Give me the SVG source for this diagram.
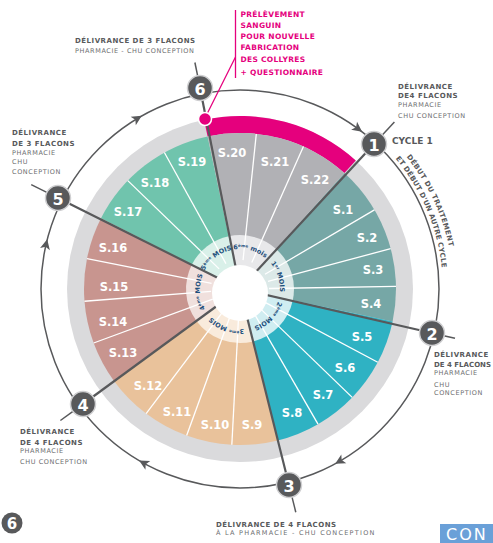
<svg xmlns="http://www.w3.org/2000/svg" width="493" height="543" viewBox="0 0 493 543">
<defs>
<style>
.lb{font-family:"DejaVu Sans",sans-serif;font-weight:bold;font-size:7px;letter-spacing:0.5px;fill:#58595b}
.lr{font-family:"DejaVu Sans",sans-serif;font-size:6.5px;letter-spacing:0.6px;fill:#6d6e71}
.pk{font-family:"DejaVu Sans",sans-serif;font-weight:bold;font-size:7.5px;letter-spacing:0.3px;fill:#e5007d}
.wk{font-family:"DejaVu Sans",sans-serif;font-weight:bold;font-size:11.5px;fill:#fff;text-anchor:middle;dominant-baseline:central}
.mo{font-family:"DejaVu Sans",sans-serif;font-weight:bold;font-size:6.5px;fill:#1e4f7c;text-anchor:middle}
.num circle{fill:#58595b;stroke:#cfcfd1;stroke-width:1.5}
.num text{font-family:"DejaVu Sans",sans-serif;font-weight:bold;font-size:16px;fill:#fff;text-anchor:middle;dominant-baseline:central}
.spoke{stroke:#58595b;stroke-width:2.2}
.div{stroke:#fff;stroke-width:1.3}
.tick{stroke:#58595b;stroke-width:1.5}
.arr{fill:#58595b}
.cur{font-family:"DejaVu Sans",sans-serif;font-weight:bold;font-size:7px;fill:#58595b}
</style>
<path id="tOut" d="M 406.4 156.8 A 214 214 0 0 1 450.7 326.2"/>
<path id="tIn" d="M 395.5 158.5 A 203 203 0 0 1 439.9 324.2"/>
<path id="h1" d="M 266.8 259.3 A 40 40 0 0 1 279.1 297.3"/>
<path id="h2" d="M 279.1 297.3 A 40 40 0 0 1 249.7 327.8"/>
<path id="h3" d="M 249.7 327.8 A 40 40 0 0 1 207.6 312.5"/>
<path id="h4" d="M 207.6 312.5 A 40 40 0 0 1 204.4 270.8"/>
<path id="h5" d="M 204.4 270.8 A 40 40 0 0 1 231.7 249.9"/>
<path id="h6" d="M 231.7 249.9 A 40 40 0 0 1 266.8 259.3"/>
<path id="ah" d="M5,0 L-5,-5 L-2.5,0 L-5,5 Z"/>
</defs>
<rect width="493" height="543" fill="#fff"/>

<g id="wheel">
<circle cx="240" cy="289" r="173" fill="#dadadc"/>
<path d="M 204 119.8 A 173 173 0 0 1 355.8 160.4 L 344.4 173.1 A 156 156 0 0 0 207.6 136.4 Z" fill="#e5007d"/>
<path d="M240 289 L344.4 173.1 A156 156 0 0 1 392.6 321.4 Z" fill="#76a7a6"/>
<path d="M240 289 L392.6 321.4 A156 156 0 0 1 277.7 440.4 Z" fill="#2fb2c3"/>
<path d="M240 289 L277.7 440.4 A156 156 0 0 1 113.8 380.7 Z" fill="#e9c29b"/>
<path d="M240 289 L113.8 380.7 A156 156 0 0 1 101.0 218.2 Z" fill="#c8958f"/>
<path d="M240 289 L101.0 218.2 A156 156 0 0 1 207.6 136.4 Z" fill="#70c4ad"/>
<path d="M240 289 L207.6 136.4 A156 156 0 0 1 344.4 173.1 Z" fill="#b1b1b5"/>
<path d="M240 289 L276.1 248.9 A54 54 0 0 1 292.8 300.2 Z" fill="#dce9e8"/>
<path d="M240 289 L292.8 300.2 A54 54 0 0 1 253.1 341.4 Z" fill="#d0edf1"/>
<path d="M240 289 L253.1 341.4 A54 54 0 0 1 196.3 320.7 Z" fill="#f9ebdc"/>
<path d="M240 289 L196.3 320.7 A54 54 0 0 1 191.9 264.5 Z" fill="#f0e0dd"/>
<path d="M240 289 L191.9 264.5 A54 54 0 0 1 228.8 236.2 Z" fill="#d9f0e9"/>
<path d="M240 289 L228.8 236.2 A54 54 0 0 1 276.1 248.9 Z" fill="#e8e8ea"/>
<g class="div">
<line x1="240" y1="260" x2="240" y2="133" transform="rotate(59.5 240 289)"/>
<line x1="240" y1="260" x2="240" y2="133" transform="rotate(75 240 289)"/>
<line x1="240" y1="260" x2="240" y2="133" transform="rotate(89 240 289)"/>
<line x1="240" y1="260" x2="240" y2="133" transform="rotate(118 240 289)"/>
<line x1="240" y1="260" x2="240" y2="133" transform="rotate(134 240 289)"/>
<line x1="240" y1="260" x2="240" y2="133" transform="rotate(150 240 289)"/>
<line x1="240" y1="260" x2="240" y2="133" transform="rotate(183 240 289)"/>
<line x1="240" y1="260" x2="240" y2="133" transform="rotate(200 240 289)"/>
<line x1="240" y1="260" x2="240" y2="133" transform="rotate(217 240 289)"/>
<line x1="240" y1="260" x2="240" y2="133" transform="rotate(249.75 240 289)"/>
<line x1="240" y1="260" x2="240" y2="133" transform="rotate(265.5 240 289)"/>
<line x1="240" y1="260" x2="240" y2="133" transform="rotate(281.25 240 289)"/>
<line x1="240" y1="260" x2="240" y2="133" transform="rotate(314 240 289)"/>
<line x1="240" y1="260" x2="240" y2="133" transform="rotate(331 240 289)"/>
<line x1="240" y1="260" x2="240" y2="133" transform="rotate(6 240 289)"/>
<line x1="240" y1="260" x2="240" y2="133" transform="rotate(24 240 289)"/>
</g>
</g>

<g id="connectors">
<circle cx="240" cy="289" r="199" fill="none" stroke="#58595b" stroke-width="1.5"/>
<g class="spoke">
<line x1="240" y1="289" x2="374" y2="144"/>
<line x1="240" y1="289" x2="432" y2="333"/>
<line x1="240" y1="289" x2="289" y2="485"/>
<line x1="240" y1="289" x2="83" y2="404"/>
<line x1="240" y1="289" x2="58" y2="198"/>
<line x1="240" y1="289" x2="200" y2="88"/>
</g>
<g class="tick">
<line x1="197.7" y1="76.2" x2="194.9" y2="62.5"/>
<line x1="382.1" y1="135.2" x2="394.4" y2="122"/>
<line x1="47.3" y1="192.6" x2="31.2" y2="184.6"/>
<line x1="73.3" y1="411.1" x2="60.4" y2="420.5"/>
<line x1="291.9" y1="496.6" x2="295.8" y2="512.2"/>
<line x1="443.7" y1="335.7" x2="455" y2="338.3"/>
</g>
<g class="arr">
<use href="#ah" transform="translate(358.1 128.8) rotate(36.4)"/>
<use href="#ah" transform="translate(339.5 461.3) rotate(150)"/>
<use href="#ah" transform="translate(143.5 463) rotate(209)"/>
<use href="#ah" transform="translate(46.1 244.2) rotate(283)"/>
<use href="#ah" transform="translate(137.5 118.4) rotate(329)"/>
</g>
<line x1="205" y1="118" x2="235.5" y2="57" stroke="#e5007d" stroke-width="1.3"/>
<line x1="235.5" y1="10" x2="235.5" y2="78" stroke="#e5007d" stroke-width="1.3"/>
</g>

<g id="hub">
<circle cx="240" cy="293" r="28" fill="#fff"/>
<text class="mo"><textPath href="#h1" startOffset="50%">1<tspan font-size="4" dy="-2">er</tspan><tspan dy="2"> MOIS</tspan></textPath></text>
<text class="mo"><textPath href="#h2" startOffset="50%">2<tspan font-size="4" dy="-2">ème</tspan><tspan dy="2"> MOIS</tspan></textPath></text>
<text class="mo"><textPath href="#h3" startOffset="50%">3<tspan font-size="4" dy="-2">ème</tspan><tspan dy="2"> MOIS</tspan></textPath></text>
<text class="mo"><textPath href="#h4" startOffset="50%">4<tspan font-size="4" dy="-2">ème</tspan><tspan dy="2"> MOIS</tspan></textPath></text>
<text class="mo"><textPath href="#h5" startOffset="50%">5<tspan font-size="4" dy="-2">ème</tspan><tspan dy="2"> MOIS</tspan></textPath></text>
<text class="mo"><textPath href="#h6" startOffset="50%">6<tspan font-size="4" dy="-2">ème</tspan><tspan dy="2"> mois</tspan></textPath></text>
</g>

<g id="weeks" class="wk">
<text x="343" y="210">S.1</text>
<text x="367" y="238">S.2</text>
<text x="373" y="270">S.3</text>
<text x="371" y="304">S.4</text>
<text x="362" y="337">S.5</text>
<text x="345" y="368">S.6</text>
<text x="323" y="395">S.7</text>
<text x="292" y="413">S.8</text>
<text x="252" y="425">S.9</text>
<text x="215" y="425">S.10</text>
<text x="177" y="412">S.11</text>
<text x="148" y="386">S.12</text>
<text x="123" y="353">S.13</text>
<text x="113" y="322">S.14</text>
<text x="114" y="287">S.15</text>
<text x="113" y="248">S.16</text>
<text x="128" y="212">S.17</text>
<text x="155" y="183">S.18</text>
<text x="192" y="162">S.19</text>
<text x="232" y="153">S.20</text>
<text x="275" y="162">S.21</text>
<text x="315" y="180">S.22</text>
</g>

<g id="step1" class="num"><circle cx="374" cy="144" r="12.5"/><text x="374" y="145">1</text></g>
<g id="step2" class="num"><circle cx="432" cy="333" r="12.5"/><text x="432" y="334">2</text></g>
<g id="step3" class="num"><circle cx="289" cy="485" r="12.5"/><text x="289" y="486">3</text></g>
<g id="step4" class="num"><circle cx="83" cy="404" r="12.5"/><text x="83" y="405">4</text></g>
<g id="step5" class="num"><circle cx="58" cy="198" r="12.5"/><text x="58" y="199">5</text></g>
<g id="step6" class="num"><circle cx="200" cy="88" r="12.5"/><text x="200" y="89">6</text></g>
<circle id="prelevement-dot" cx="205" cy="119" r="6.5" fill="#e5007d" stroke="#fff" stroke-width="1.5"/>

<g id="label-cycle">
<text class="cur"><textPath href="#tOut" letter-spacing="0.4">DÉBUT DU TRAITEMENT</textPath></text>
<text class="cur"><textPath href="#tIn" letter-spacing="0.2">ET DÉBUT D'UN AUTRE CYCLE</textPath></text>
<text x="392" y="143.5" font-family="DejaVu Sans, sans-serif" font-weight="bold" font-size="9px" fill="#58595b">CYCLE 1</text>
</g>

<g id="label-prelevement" class="pk">
<text x="240.5" y="17">PRÉLÈVEMENT</text>
<text x="240.5" y="28">SANGUIN</text>
<text x="240.5" y="38.5">POUR NOUVELLE</text>
<text x="240.5" y="50">FABRICATION</text>
<text x="240.5" y="62">DES COLLYRES</text>
<text x="240.5" y="75">+ QUESTIONNAIRE</text>
</g>

<g id="label6">
<text class="lb" x="75" y="43">DÉLIVRANCE DE 3 FLACONS</text>
<text class="lr" x="75" y="53">PHARMACIE - CHU CONCEPTION</text>
</g>
<g id="label1">
<text class="lb" x="398" y="89">DÉLIVRANCE</text>
<text class="lb" x="398" y="98">DE4 FLACONS</text>
<text class="lr" x="398" y="107">PHARMACIE</text>
<text class="lr" x="398" y="118">CHU CONCEPTION</text>
</g>
<g id="label5">
<text class="lb" x="12" y="135">DÉLIVRANCE</text>
<text class="lb" x="12" y="145.5">DE 3 FLACONS</text>
<text class="lr" x="12" y="155">PHARMACIE</text>
<text class="lr" x="12" y="164">CHU</text>
<text class="lr" x="12" y="174">CONCEPTION</text>
</g>
<g id="label2">
<text class="lb" x="434" y="356.5">DÉLIVRANCE</text>
<text class="lb" x="434" y="366.5" style="letter-spacing:0">DE 4 FLACONS</text>
<text class="lr" x="434" y="374.5">PHARMACIE</text>
<text class="lr" x="434" y="386.5">CHU</text>
<text class="lr" x="434" y="395">CONCEPTION</text>
</g>
<g id="label4">
<text class="lb" x="20" y="433.5">DÉLIVRANCE</text>
<text class="lb" x="20" y="444.5">DE 4 FLACONS</text>
<text class="lr" x="20" y="453">PHARMACIE</text>
<text class="lr" x="20" y="463.5">CHU CONCEPTION</text>
</g>
<g id="label3">
<text class="lb" x="216" y="526.5">DÉLIVRANCE DE 4 FLACONS</text>
<text class="lr" x="216" y="535" textLength="159">À LA PHARMACIE - CHU CONCEPTION</text>
</g>

<g id="footer">
<circle cx="12" cy="523" r="10.5" fill="#58595b"/>
<text x="12" y="528.5" text-anchor="middle" font-family="DejaVu Sans, sans-serif" font-weight="bold" font-size="15px" fill="#fff">6</text>
<rect x="440" y="524" width="53" height="19" fill="#6aa0d8"/>
<text x="446" y="540" font-family="DejaVu Sans, sans-serif" font-size="16px" letter-spacing="2" fill="#fff">CON</text>
</g>
</svg>
